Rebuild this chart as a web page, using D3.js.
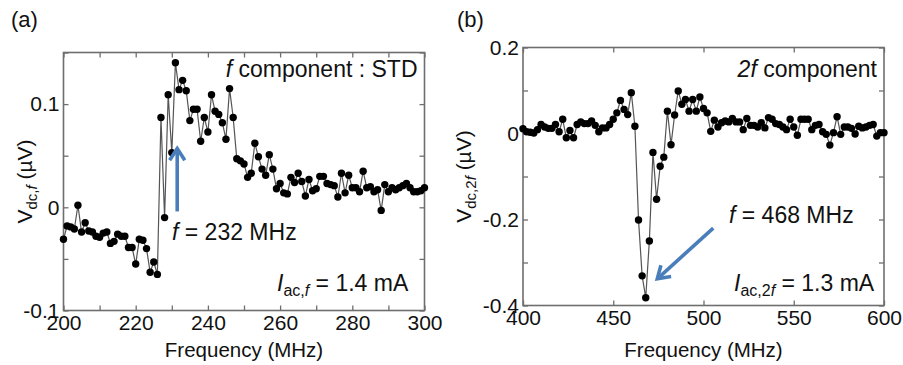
<!DOCTYPE html>
<html>
<head>
<meta charset="utf-8">
<script src="https://cdn.jsdelivr.net/npm/d3@7"></script>
<style>
  body { margin: 0; background: #fff; }
  svg { font-family: "Liberation Sans", Arial, sans-serif; }
</style>
</head>
<body>
<div id="chart"></div>
<script>
// panel (a): f component, 1 MHz steps
const freqA = [200,201,202,203,204,205,206,207,208,209,210,211,212,213,214,215,216,217,218,219,
  220,221,222,223,224,225,226,227,228,229,230,231,232,233,234,235,236,237,238,239,
  240,241,242,243,244,245,246,247,248,249,250,251,252,253,254,255,256,257,258,259,
  260,261,262,263,264,265,266,267,268,269,270,271,272,273,274,275,276,277,278,279,
  280,281,282,283,284,285,286,287,288,289,290,291,292,293,294,295,296,297,298,299,300];
const valsA = [-0.031,-0.018,-0.019,-0.021,0.002,-0.024,-0.015,-0.023,-0.024,-0.028,
  -0.029,-0.025,-0.024,-0.035,-0.033,-0.026,-0.028,-0.028,-0.039,-0.039,
  -0.055,-0.031,-0.032,-0.040,-0.063,-0.053,-0.065,0.087,-0.010,0.109,
  0.053,0.140,0.114,0.123,0.113,0.084,0.095,0.095,0.064,0.087,
  0.073,0.109,0.093,0.090,0.082,0.066,0.115,0.087,0.047,0.045,
  0.042,0.029,0.033,0.062,0.049,0.037,0.031,0.051,0.037,0.018,
  0.023,0.014,0.013,0.029,0.024,0.033,0.025,0.011,0.027,0.016,
  0.018,0.030,0.030,0.023,0.022,0.021,0.010,0.033,0.014,0.031,
  0.019,0.019,0.015,0.035,0.019,0.020,0.015,0.017,-0.003,0.022,
  0.015,0.019,0.017,0.019,0.021,0.023,0.019,0.015,0.015,0.016,0.019];

// panel (b): 2f component, 2 MHz steps
const freqB = [400,402,404,406,408,410,412,414,416,418,420,422,424,426,428,430,432,434,436,438,
  440,442,444,446,448,450,452,454,456,458,460,462,464,466,468,470,472,474,476,478,
  480,482,484,486,488,490,492,494,496,498,500,502,504,506,508,510,512,514,516,518,
  520,522,524,526,528,530,532,534,536,538,540,542,544,546,548,550,552,554,556,558,
  560,562,564,566,568,570,572,574,576,578,580,582,584,586,588,590,592,594,596,598,600];
const valsB = [0.011,0.004,0.003,0.001,0.009,0.021,0.015,0.012,0.012,0.021,
  0.004,0.033,-0.010,0.007,-0.010,0.021,0.027,0.023,0.023,0.029,
  0.019,0.004,0.013,0.013,0.021,0.033,0.048,0.077,0.056,0.044,
  0.095,0.017,-0.201,-0.331,-0.382,-0.250,-0.044,-0.153,-0.076,-0.055,
  0.052,-0.026,0.043,0.099,0.068,0.079,0.052,0.079,0.052,0.085,
  0.058,0.048,0.005,0.031,0.015,0.025,0.029,0.027,0.035,0.027,
  0.027,0.009,0.035,0.019,0.019,0.015,0.025,0.013,0.037,0.033,
  0.023,0.021,0.015,0.009,0.033,0.015,-0.004,0.033,0.033,0.033,
  0.009,0.019,0.021,0.004,-0.002,-0.027,0.002,0.039,-0.002,0.015,
  0.015,0.012,-0.001,0.017,0.013,0.015,0.019,0.021,-0.006,0.002,0.002];

// ticks and labels
const xTicksA = [200,210,220,230,240,250,260,270,280,290,300];
const xLabelsA = ["200","","220","","240","","260","","280","","300"];
const yTicksA = [-0.1,-0.05,0,0.05,0.1,0.15];
const yLabelsA = ["-0.1","","0","","0.1",""];
const xTicksB = [400,450,500,550,600];
const xLabelsB = ["400","450","500","550","600"];
const yTicksB = [-0.4,-0.3,-0.2,-0.1,0,0.1,0.2];
const yLabelsB = ["-0.4","","-0.2","","0","","0.2"];

// arrows: [f, V] from -> to (tip)
const arrowA = [[231.5, -0.004], [231.5, 0.057]];
const arrowB = [[505.4, -0.220], [474.4, -0.338]];

const width = 903, height = 365;
const blue = "#4a7ebb";
const frameColor = "#6e6e6e";

const svg = d3.select("#chart").append("svg")
  .attr("width", width).attr("height", height);

const panels = [
  { freq: freqA, vals: valsA, left: 63.5, right: 424.5, top: 52.5, bottom: 310.5,
    xDom: [200, 300], yDom: [-0.1, 0.15], xTicks: xTicksA, xLabels: xLabelsA,
    yTicks: yTicksA, yLabels: yLabelsA, arrow: arrowA, tag: "(a)", tagX: 11,
    ytX: 32, sub: "dc,", subI: "f", topText: ["f", " component : STD"],
    fText: "232 MHz", fX: 172, fY: 240, iSub: "ac,", iSubI: "f", iVal: " = 1.4 mA", iX: 277 },
  { freq: freqB, vals: valsB, left: 523, right: 884, top: 47.5, bottom: 305.5,
    xDom: [400, 600], yDom: [-0.4, 0.2], xTicks: xTicksB, xLabels: xLabelsB,
    yTicks: yTicksB, yLabels: yLabelsB, arrow: arrowB, tag: "(b)", tagX: 457,
    ytX: 471, sub: "dc,2", subI: "f", topText: ["2f", " component"],
    fText: "468 MHz", fX: 729, fY: 223, iSub: "ac,2", iSubI: "f", iVal: " = 1.3 mA", iX: 734 }
];

panels.forEach(p => {
  const x = d3.scaleLinear().domain(p.xDom).range([p.left, p.right]);
  const y = d3.scaleLinear().domain(p.yDom).range([p.bottom, p.top]);
  const g = svg.append("g");

  // ticks (inward, mirrored)
  const styleAxis = sel => {
    sel.select(".domain").remove();
    sel.selectAll(".tick line").attr("stroke", frameColor).attr("stroke-width", 1.3);
    sel.selectAll(".tick text").attr("fill", "#111").style("font-size", "21px")
      .style("font-family", '"Liberation Sans", Arial, sans-serif');
  };
  g.append("g").attr("transform", `translate(0,${p.bottom})`)
    .call(d3.axisBottom(x).tickValues(p.xTicks).tickFormat((d, i) => p.xLabels[i]).tickSize(-5).tickPadding(5))
    .call(styleAxis);
  g.append("g").attr("transform", `translate(0,${p.top})`)
    .call(d3.axisTop(x).tickValues(p.xTicks).tickFormat("").tickSize(-5))
    .call(styleAxis);
  g.append("g").attr("transform", `translate(${p.left},0)`)
    .call(d3.axisLeft(y).tickValues(p.yTicks).tickFormat((d, i) => p.yLabels[i]).tickSize(-5).tickPadding(4))
    .call(styleAxis);
  g.append("g").attr("transform", `translate(${p.right},0)`)
    .call(d3.axisRight(y).tickValues(p.yTicks).tickFormat("").tickSize(-5))
    .call(styleAxis);

  g.append("rect")
    .attr("x", p.left).attr("y", p.top)
    .attr("width", p.right - p.left).attr("height", p.bottom - p.top)
    .attr("fill", "none").attr("stroke", frameColor).attr("stroke-width", 1.6);

  // data
  const pts = p.freq.map((f, i) => [f, p.vals[i]]);
  g.append("path").datum(pts)
    .attr("fill", "none").attr("stroke", "#555").attr("stroke-width", 1.2)
    .attr("d", d3.line().x(d => x(d[0])).y(d => y(d[1])));
  g.selectAll("circle.pt").data(pts).enter().append("circle")
    .attr("class", "pt")
    .attr("cx", d => x(d[0])).attr("cy", d => y(d[1]))
    .attr("r", 3.7).attr("fill", "#000");

  // arrow
  const [a0, a1] = p.arrow;
  const sx = x(a0[0]), sy = y(a0[1]), tx = x(a1[0]), ty = y(a1[1]);
  const ang = Math.atan2(ty - sy, tx - sx);
  const hl = 14, ha = Math.PI / 5.5;
  g.append("line").attr("x1", sx).attr("y1", sy).attr("x2", tx).attr("y2", ty)
    .attr("stroke", blue).attr("stroke-width", 3.6);
  g.append("path")
    .attr("d", `M${tx - hl * Math.cos(ang - ha)},${ty - hl * Math.sin(ang - ha)}L${tx},${ty}L${tx - hl * Math.cos(ang + ha)},${ty - hl * Math.sin(ang + ha)}`)
    .attr("fill", "none").attr("stroke", blue).attr("stroke-width", 3.6)
    .attr("stroke-linejoin", "miter");

  // panel tag
  svg.append("text").attr("x", p.tagX).attr("y", 27)
    .style("font-size", "22px").attr("fill", "#111").text(p.tag);

  // x title
  svg.append("text").attr("x", (p.left + p.right) / 2).attr("y", 357)
    .attr("text-anchor", "middle").style("font-size", "20.5px").attr("fill", "#111")
    .text("Frequency (MHz)");

  // y title
  const yt = svg.append("text")
    .attr("transform", `translate(${p.ytX},${(p.top + p.bottom) / 2}) rotate(-90)`)
    .attr("text-anchor", "middle").style("font-size", "21px").attr("fill", "#111");
  yt.append("tspan").text("V");
  yt.append("tspan").attr("dy", 5).style("font-size", "15px").text(p.sub);
  yt.append("tspan").style("font-size", "15px").style("font-style", "italic").text(p.subI);
  yt.append("tspan").attr("dy", -5).text(" (\u00b5V)");

  // annotations
  const tt = svg.append("text").attr("x", p.right - 7).attr("y", 77)
    .attr("text-anchor", "end").style("font-size", "23px").attr("fill", "#111");
  tt.append("tspan").style("font-style", "italic").text(p.topText[0]);
  tt.append("tspan").text(p.topText[1]);

  const ft = svg.append("text").attr("x", p.fX).attr("y", p.fY)
    .style("font-size", "23px").attr("fill", "#111");
  ft.append("tspan").style("font-style", "italic").text("f");
  ft.append("tspan").text(" = " + p.fText);

  const it = svg.append("text").attr("x", p.iX).attr("y", 291)
    .style("font-size", "23px").attr("fill", "#111");
  it.append("tspan").style("font-style", "italic").text("I");
  it.append("tspan").attr("dy", 5).style("font-size", "16px").text(p.iSub);
  it.append("tspan").style("font-size", "16px").style("font-style", "italic").text(p.iSubI);
  it.append("tspan").attr("dy", -5).text(p.iVal);
});
</script>
</body>
</html>
